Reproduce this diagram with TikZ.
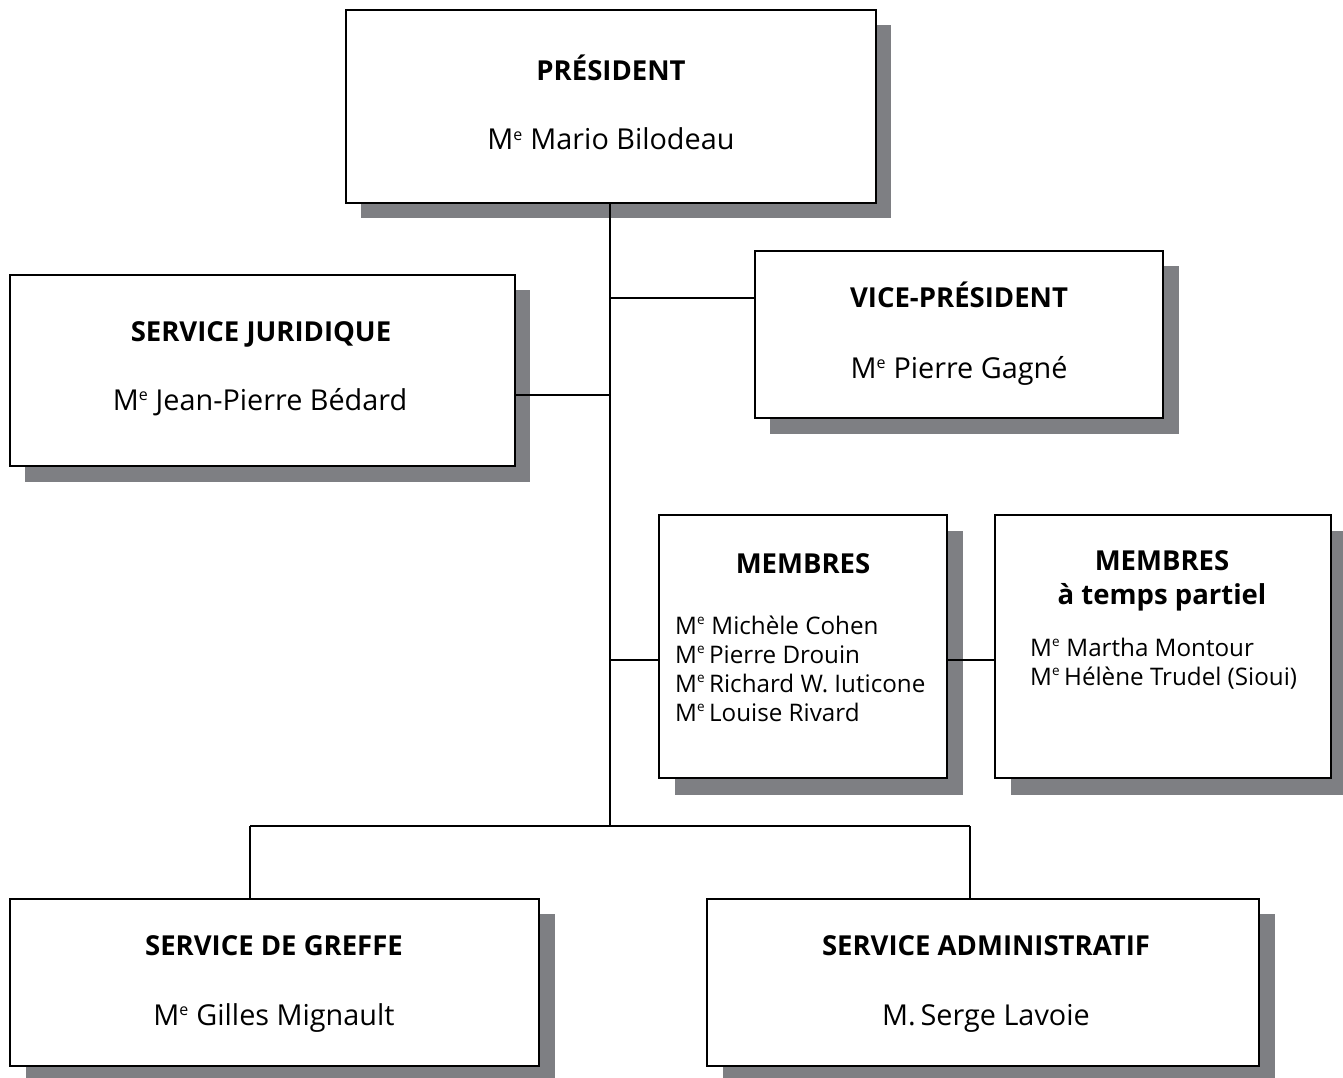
\documentclass[tikz,border=0pt]{standalone}
\usepackage{fontspec}
\setmainfont{Open Sans}
\definecolor{shadowgray}{RGB}{126,127,131}
\def\mesz{16}
\newcommand{\Me}{M\textsuperscript{\fontsize{\mesz}{0}\selectfont e}}
\tikzset{
  box/.style={draw=black, line width=2.4pt, fill=white},
  shade/.style={fill=shadowgray, draw=none},
  conn/.style={draw=black, line width=2pt},
  ttl/.style={font=\fontsize{27.5}{31}\selectfont\bfseries, anchor=base, inner sep=0pt},
  nm/.style={font=\def\mesz{16}\fontsize{28.8}{32}\selectfont, anchor=base, inner sep=0pt},
  lst/.style={font=\def\mesz{13.5}\fontsize{24.2}{29}\selectfont, anchor=base west, inner sep=0pt},
}
\begin{document}
\begin{tikzpicture}[x=1pt,y=-1pt]
\useasboundingbox (0,0) rectangle (1343,1078);
% shadows
\fill[shade] (361,25) rectangle (891,218);
\fill[shade] (25,290) rectangle (530,482);
\fill[shade] (770,266) rectangle (1179,434);
\fill[shade] (675,531) rectangle (963,795);
\fill[shade] (1011,531) rectangle (1343,795);
\fill[shade] (26,914) rectangle (555,1078);
\fill[shade] (723,914) rectangle (1275,1078);
% boxes
\path[box] (346,10) rectangle (876,203);
\node[inner sep=0pt, minimum width=530pt, minimum height=193pt] (pres) at (611,106.5) {};
\path[box] (10,275) rectangle (515,466);
\node[inner sep=0pt, minimum width=505pt, minimum height=191pt] (jur) at (262.5,370.5) {};
\path[box] (755,251) rectangle (1163,418);
\node[inner sep=0pt, minimum width=408pt, minimum height=167pt] (vice) at (959,334.5) {};
\path[box] (659,515) rectangle (947,778);
\node[inner sep=0pt, minimum width=288pt, minimum height=263pt] (memb) at (803,646.5) {};
\path[box] (995,515) rectangle (1331,778);
\node[inner sep=0pt, minimum width=336pt, minimum height=263pt] (tp) at (1163,646.5) {};
\path[box] (10,899) rectangle (539,1066);
\node[inner sep=0pt, minimum width=529pt, minimum height=167pt] (gref) at (274.5,982.5) {};
\path[box] (707,899) rectangle (1259,1066);
\node[inner sep=0pt, minimum width=552pt, minimum height=167pt] (adm) at (983,982.5) {};
% connectors
\coordinate (top) at (610,203);
\coordinate (j1) at (610,298);
\coordinate (j2) at (610,395);
\coordinate (j3) at (610,660);
\coordinate (bot) at (610,826);
\coordinate (bl) at (250,826);
\coordinate (br) at (970,826);
\draw[conn] (top) -- (bot);
\draw[conn] (j1) -- (vice.west |- j1);
\draw[conn] (j2) -- (jur.east |- j2);
\draw[conn] (j3) -- (memb.west |- j3);
\draw[conn] (memb.east |- j3) -- (tp.west |- j3);
\draw[conn] (bl) -- (br);
\draw[conn] (bl) -- (gref.north -| bl);
\draw[conn] (br) -- (adm.north -| br);
% texts
\node[ttl] (t1) at (611,81) {PRÉSIDENT};
\node[nm] (n1) at (611,150) {\Me{} Mario Bilodeau};
\node[ttl] (t2) at (261,341) {SERVICE JURIDIQUE};
\node[nm] (n2) at (260,410) {\Me{} Jean-Pierre Bédard};
\node[ttl] (t3) at (959,307) {VICE-PRÉSIDENT};
\node[nm] (n3) at (959,378) {\Me{} Pierre Gagné};
\node[ttl] (t4) at (803,573) {MEMBRES};
\node[lst] (l1) at (675,634) {\Me{} Michèle Cohen};
\node[lst] (l2) at (675,663) {\Me\,Pierre Drouin};
\node[lst] (l3) at (675,692) {\Me\,Richard W. Iuticone};
\node[lst] (l4) at (675,721) {\Me\,Louise Rivard};
\node[ttl] (t5) at (1162,570) {MEMBRES};
\node[ttl] (t5b) at (1162,604) {à temps partiel};
\node[lst] (l5) at (1030,656) {\Me{} Martha Montour};
\node[lst] (l6) at (1030,685) {\Me\,Hélène Trudel (Sioui)};
\node[ttl] (t6) at (274,955) {SERVICE DE GREFFE};
\node[nm] (n6) at (274,1025) {\Me{} Gilles Mignault};
\node[ttl] (t7) at (986,955) {SERVICE ADMINISTRATIF};
\node[nm] (n7) at (986,1025) {M.\,Serge Lavoie};
\end{tikzpicture}
\end{document}
